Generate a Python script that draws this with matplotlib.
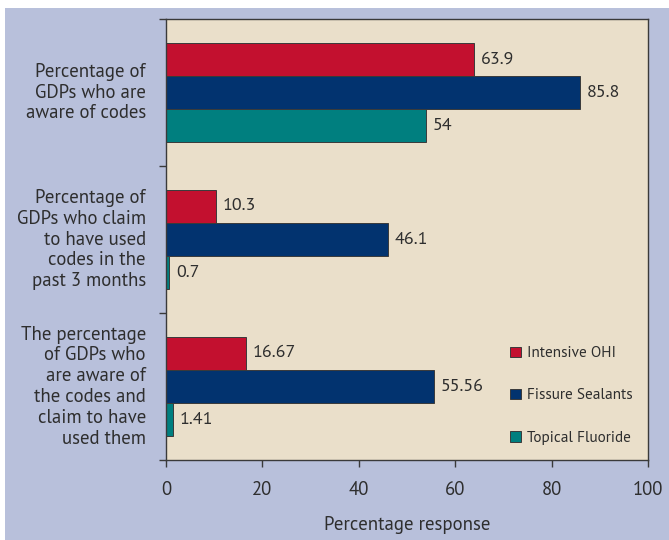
import matplotlib
matplotlib.use("Agg")
import matplotlib.pyplot as plt
import matplotlib.patches as mpatches
import numpy as np

plt.rcParams['font.family'] = ['PT Sans', 'DejaVu Sans']

categories = [
    "Percentage of\nGDPs who are\naware of codes",
    "Percentage of\nGDPs who claim\nto have used\ncodes in the\npast 3 months",
    "The percentage\nof GDPs who\nare aware of\nthe codes and\nclaim to have\nused them",
]
series_names = ["Intensive OHI", "Fissure Sealants", "Topical Fluoride"]
intensive_ohi = [63.9, 10.3, 16.67]
fissure_sealants = [85.8, 46.1, 55.56]
topical_fluoride = [54, 0.7, 1.41]
value_labels = [
    ["63.9", "10.3", "16.67"],
    ["85.8", "46.1", "55.56"],
    ["54", "0.7", "1.41"],
]
x_ticks = [0, 20, 40, 60, 80, 100]

colors = ["#c3102f", "#02336f", "#007f7f"]
outer_bg = "#b8c0db"
plot_bg = "#eadfca"
text_color = "#2e2e2e"

fig = plt.figure(figsize=(6.69, 5.40), dpi=100, facecolor="white")
W, H = 669, 540
# coloured panel with a thin white margin on top and left
fig.patches.append(mpatches.Rectangle((5 / W, 0), 1 - 5 / W, (H - 8) / H,
                                      transform=fig.transFigure,
                                      facecolor=outer_bg, edgecolor="none",
                                      zorder=-10))

ax = fig.add_axes([166 / W, 1 - 460 / H, (648 - 166) / W, (460 - 19) / H])
ax.set_facecolor(plot_bg)

y = np.arange(len(categories))
bh = 0.2245
all_series = [intensive_ohi, fissure_sealants, topical_fluoride]
for i, (vals, name, col) in enumerate(zip(all_series, series_names, colors)):
    pos = y + (i - 1) * bh
    ax.barh(pos, vals, height=bh, color=col, edgecolor="#3a3a3a",
            linewidth=0.7, label=name, zorder=2)
    for p, v, lab in zip(pos, vals, value_labels[i]):
        ax.text(v + 1.4, p, lab, va="center", ha="left", fontsize=13,
                color=text_color, zorder=3)

ax.set_xlim(0, 100)
ax.set_ylim(2.5, -0.5)
ax.set_xticks(x_ticks)
ax.set_xticklabels([str(t) for t in x_ticks], fontsize=13.5, color=text_color)
ax.set_yticks([-0.5, 0.5, 1.5, 2.5])
ax.set_yticklabels([])
ax.tick_params(axis="x", direction="out", length=5, width=1, color="#3a3a3a", pad=10)
ax.tick_params(axis="y", direction="out", length=5, width=1, color="#3a3a3a")
for s in ax.spines.values():
    s.set_color("#3a3a3a")
    s.set_linewidth(1.0)

for yi, cat in zip(y, categories):
    ax.text(-4.2, yi, cat, ha="right", va="center", multialignment="right",
            fontsize=13.5, color=text_color, linespacing=1.2,
            transform=ax.transData, clip_on=False)

ax.set_xlabel("Percentage response", fontsize=13.5, color=text_color, labelpad=12)

leg = ax.legend(loc="lower right", bbox_to_anchor=(1.0, 0.0), frameon=False,
                fontsize=11, handlelength=0.7, handleheight=0.7,
                handletextpad=0.4, labelspacing=1.85, borderaxespad=0.6)
for t in leg.get_texts():
    t.set_color(text_color)
for h in leg.legend_handles:
    h.set_edgecolor("#3a3a3a")
    h.set_linewidth(0.7)

fig.savefig("out.png", dpi=100, facecolor=fig.get_facecolor())
